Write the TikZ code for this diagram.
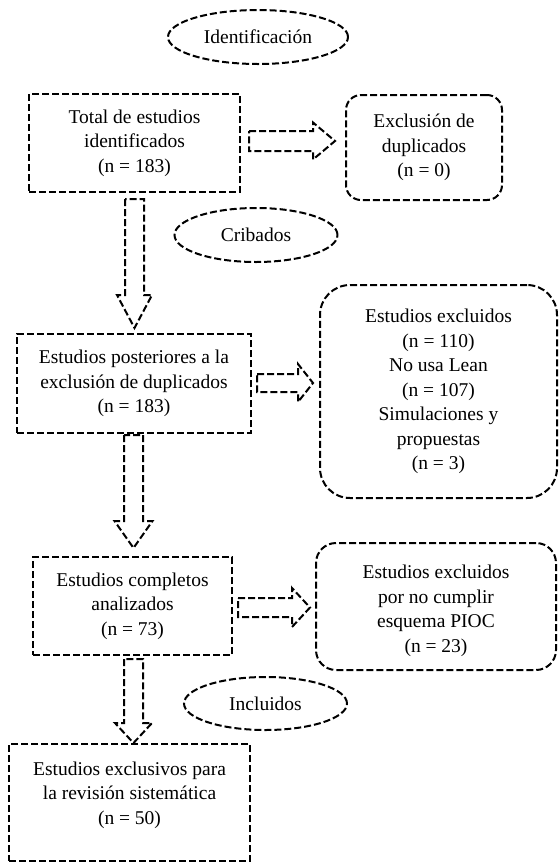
\documentclass[tikz,border=0pt]{standalone}
\usepackage{fontspec}
\setmainfont{Liberation Serif}
\usetikzlibrary{shapes.geometric}
\tikzset{
  dsh/.style={draw=black, line width=2pt, dash pattern=on 7pt off 3pt},
  txt/.style={font=\fontsize{19.5}{24.5}\selectfont},
  boxsq/.style={dsh, txt, rectangle, inner sep=0pt, align=center},
  boxrd/.style={boxsq, rounded corners=#1},
  oval/.style={dsh, txt, ellipse, inner sep=0pt},
  blk/.style={dsh, line join=miter},
}
\newcommand\rblk[6]{\draw[blk] (#1,#4-#5) -- (#2,#4-#5) -- (#2,#4-#6) -- (#3,#4) -- (#2,#4+#6) -- (#2,#4+#5) -- (#1,#4+#5) -- cycle;}
\newcommand\dblk[6]{\draw[blk] (#1-#5,#2) -- (#1-#5,#3) -- (#1-#6,#3) -- (#1,#4) -- (#1+#6,#3) -- (#1+#5,#3) -- (#1+#5,#2) -- cycle;}
\begin{document}
\begin{tikzpicture}[x=1pt,y=-1pt]
\useasboundingbox (0,0) rectangle (559,863);
% ellipses
\node[oval, minimum width=180pt, minimum height=54pt] (e1) at (258,37) {Identificación};
\node[oval, minimum width=163pt, minimum height=54pt] (e2) at (256,235) {Cribados};
\node[oval, minimum width=163pt, minimum height=53pt] (e3) at (265.5,703.5) {Incluidos};
% boxes
\node[boxsq, minimum width=211pt, minimum height=98pt] (b1) at (134.5,143) {Total de estudios\\identificados\\(n = 183)};
\node[boxrd=15pt, minimum width=156pt, minimum height=105pt] (b2) at (424,147.5) {Exclusión de\\duplicados\\(n = 0)};
\node[boxsq, minimum width=234pt, minimum height=99pt] (b3) at (134,383.5) {Estudios posteriores a la\\exclusión de duplicados\\(n = 183)};
\node[boxrd=30pt, minimum width=237pt, minimum height=213pt] (b4) at (438.5,391.5) {Estudios excluidos\\(n = 110)\\No usa Lean\\(n = 107)\\Simulaciones y\\propuestas\\(n = 3)};
\node[boxsq, minimum width=199pt, minimum height=98pt] (b5) at (132.5,606) {Estudios completos\\analizados\\(n = 73)};
\node[boxrd=20pt, minimum width=240pt, minimum height=127pt] (b6) at (436,606.5) {};
\node[txt, align=center] (b6t) at (436,611) {Estudios excluidos\\por no cumplir\\esquema PIOC\\(n = 23)};
\node[boxsq, minimum width=241pt, minimum height=117pt] (b7) at (129.5,802.5) {};
\node[txt, align=center] (b7t) at (129.5,795) {Estudios exclusivos para\\la revisión sistemática\\(n = 50)};
% block arrows
\rblk{249}{313}{335}{141}{10}{18.5}
\rblk{257}{298}{313}{383}{9}{19}
\rblk{238}{292}{310}{607.5}{9.5}{19.5}
\dblk{134.5}{199}{295}{328}{9.5}{17.5}
\dblk{133.5}{435}{521}{548}{9.5}{19}
\dblk{133.5}{659}{723}{743}{9.5}{18.5}
\end{tikzpicture}
\end{document}
